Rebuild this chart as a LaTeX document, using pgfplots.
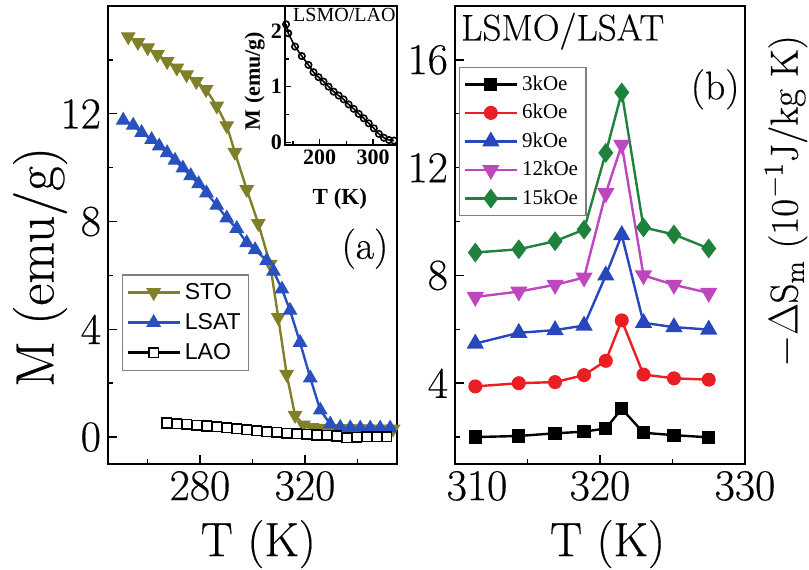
\documentclass[border=0pt]{standalone}
\usepackage{fontspec}
\setmainfont{Liberation Serif}
\newfontfamily\tnr{Liberation Serif}
\newfontfamily\lmr{Latin Modern Roman}[FakeBold=0.4]
\newfontfamily\arial{Liberation Sans}
\usepackage{pgfplots}
\pgfplotsset{compat=1.18}
\definecolor{olv}{RGB}{128,128,40}
\definecolor{lsat}{RGB}{40,80,190}
\definecolor{cred}{RGB}{235,30,35}
\definecolor{cblue}{RGB}{40,70,190}
\definecolor{cmag}{RGB}{190,70,190}
\definecolor{cgreen}{RGB}{30,130,60}
\pgfplotsset{
  common/.style={
    scale only axis, anchor=south west,
    tick pos=left, tick align=inside,
    major tick length=4.5pt, minor tick length=2.5pt,
    every tick/.style={black, line width=0.7pt},
    axis line style={line width=0.8pt},
    tick label style={font=\lmr\fontsize{22}{22}\selectfont, /pgf/number format/assume math mode=true},
    legend image code/.code={\draw[mark repeat=2,mark phase=2,##1] plot coordinates {(0pt,0pt) (13pt,0pt) (26pt,0pt)};},
  }
}
\begin{document}
\begin{tikzpicture}
\path[use as bounding box] (0,0) rectangle (404.5pt,284.5pt);
% ---------- panel (a)
\begin{axis}[common, at={(54pt,52.5pt)}, width=144.5pt, height=229pt,
  xmin=245, xmax=355, ymin=-1, ymax=16,
  xtick={280,320}, minor xtick={260,300,340},
  ytick={0,4,8,12}, minor ytick={2,6,10,14},
  xlabel={T (K)}, ylabel={M (emu/g)},
  xlabel style={font=\lmr\fontsize{24}{24}\selectfont, at={(axis description cs:0.52,-0.175)}, anchor=center},
  ylabel style={font=\lmr\fontsize{27}{27}\selectfont, at={(axis description cs:-0.235,0.43)}, anchor=center},
  legend style={at={(axis description cs:0.048,0.414)}, anchor=north west, draw=gray, line width=0.6pt,
    font=\arial\fontsize{11.5}{11.5}\selectfont, row sep=1.5pt, inner sep=2pt, cells={anchor=west}},
  legend cell align=left]
\addplot[olv, line width=1.2pt, mark=triangle*, mark size=3.8pt, mark options={solid, fill=olv, rotate=180, line width=0.5pt}] coordinates {
(252.7,14.86) (256.4,14.65) (260.1,14.45) (263.8,14.20) (267.5,13.94) (271.2,13.70) (274.9,13.45) (278.6,13.20)
(282.3,12.90) (286.4,12.29) (290.2,11.56) (293.3,10.57) (297.8,9.19) (302.2,7.93) (306.7,6.42) (309.8,4.44)
(313.0,2.33) (316.2,0.81) (319.4,0.45) (322.6,0.36) (326.0,0.33) (329.5,0.32) (333.0,0.32) (336.5,0.31)
(340.0,0.31) (343.5,0.31) (347.0,0.30) (350.5,0.30) (353.5,0.30)};
\addlegendentry{STO}
\addplot[lsat, line width=1.2pt, mark=triangle*, mark size=3.8pt, mark options={solid, fill=lsat, line width=0.5pt}] coordinates {
(250.8,11.76) (254.6,11.57) (257.8,11.30) (261.6,11.04) (264.5,10.80) (267.5,10.55) (270.5,10.27) (273.5,9.98)
(276.5,9.70) (279.5,9.40) (282.5,9.06) (286.4,8.60) (290.2,8.13) (294.0,7.74) (297.8,7.21) (301.0,6.95)
(305.4,6.55) (308.0,6.15) (311.2,5.49) (314.3,4.70) (318.1,3.51) (322.0,2.19) (325.8,1.00) (329.6,0.48)
(333.4,0.36) (337.2,0.34) (341.0,0.33) (344.8,0.33) (348.6,0.33) (352.4,0.33)};
\addlegendentry{LSAT}
\addplot[black, line width=1.2pt, mark=square*, mark size=2.4pt, mark options={solid, fill=white, line width=0.8pt}] coordinates {
(267.3,0.52) (271.1,0.50) (274.9,0.47) (278.7,0.44) (282.5,0.41) (286.4,0.38) (290.2,0.35) (294.0,0.31)
(297.8,0.27) (301.6,0.23) (305.4,0.20) (309.2,0.17) (313.0,0.14) (316.8,0.12) (320.6,0.10) (324.5,0.08)
(328.3,0.06) (332.1,0.04) (335.9,-0.02) (339.7,-0.01) (343.5,0.01) (347.3,0.02) (351.1,0.02)};
\addlegendentry{LAO}
\node[font=\lmr\fontsize{20}{20}\selectfont] at (axis description cs:0.889,0.47) {(a)};
\end{axis}
% ---------- inset
\begin{axis}[common, at={(142.5pt,212pt)}, width=56pt, height=69.5pt,
  xmin=135, xmax=345, ymin=-0.05, ymax=2.45,
  xtick={200,300}, minor xtick={150,250},
  ytick={0,1,2}, minor ytick={0.5,1.5},
  major tick length=3pt, minor tick length=1.8pt,
  tick label style={font=\tnr\bfseries\fontsize{11}{11}\selectfont},
  xticklabel style={yshift=1pt}, yticklabel style={xshift=2pt},
  xlabel={T (K)}, ylabel={M (emu/g)},
  xlabel style={font=\tnr\bfseries\fontsize{11.5}{11.5}\selectfont, at={(axis description cs:0.49,-0.385)}, anchor=center},
  ylabel style={font=\tnr\bfseries\fontsize{11}{11}\selectfont, at={(axis description cs:-0.27,0.46)}, anchor=center},
  axis background/.style={fill=white}]
\addplot[black, line width=0.8pt, mark=o, mark size=1.6pt, mark options={solid, line width=0.8pt}] coordinates {
(137,2.12) (141,1.96) (153.9,1.72) (166.5,1.55) (179,1.39) (188.4,1.26) (197.9,1.17) (207.3,1.09) (216.7,1.00)
(226.2,0.91) (235.6,0.84) (245,0.77) (254.4,0.68) (263.9,0.60) (273.3,0.51) (282.7,0.43) (292.1,0.34)
(301.6,0.25) (311,0.15) (320.5,0.08) (330,0.04) (339.4,0.03)};
\node[font=\tnr\fontsize{10}{10}\selectfont, anchor=north, inner sep=1pt] at (axis description cs:0.53,1) {LSMO/LAO};
\end{axis}
% ---------- panel (b)
\begin{axis}[common, at={(227.5pt,52.5pt)}, width=145pt, height=229pt,
  xmin=310, xmax=330, ymin=1, ymax=18,
  xtick={310,320,330}, minor xtick={315,325},
  xticklabels={\hspace*{22pt}310, 320, 330},
  ytick={4,8,12,16}, minor ytick={2,6,10,14},
  xlabel={T (K)},
  ylabel={$-\Delta$S\textsubscript{m} (10\textsuperscript{$-$1}J/kg K)},
  xlabel style={font=\lmr\fontsize{24}{24}\selectfont, at={(axis description cs:0.526,-0.175)}, anchor=center},
  ylabel style={font=\lmr\fontsize{19.5}{19.5}\selectfont, at={(axis description cs:1.141,0.573)}, anchor=center},
  legend style={at={(axis description cs:0.014,0.867)}, anchor=north west, draw=gray, line width=0.6pt,
    font=\tnr\fontsize{10.5}{10.5}\selectfont, row sep=1.5pt, inner sep=2pt, cells={anchor=west}},
  legend cell align=left]
\addplot[black, line width=1.2pt, mark=square*, mark size=2.7pt, mark options={solid, fill=black}] coordinates {
(311.4,2.00) (314.4,2.04) (316.9,2.14) (318.9,2.20) (320.4,2.32) (321.5,3.05) (323.0,2.16) (325.1,2.07) (327.5,1.99)};
\addlegendentry{3kOe}
\addplot[cred, line width=1.2pt, mark=*, mark size=2.9pt, mark options={solid, fill=cred}] coordinates {
(311.4,3.88) (314.4,4.00) (316.9,4.04) (318.9,4.30) (320.4,4.83) (321.5,6.33) (323.0,4.32) (325.1,4.18) (327.5,4.13)};
\addlegendentry{6kOe}
\addplot[cblue, line width=1.2pt, mark=triangle*, mark size=3.8pt, mark options={solid, fill=cblue}] coordinates {
(311.4,5.47) (314.4,5.87) (316.9,5.97) (318.9,6.14) (320.4,8.00) (321.5,9.50) (323.0,6.24) (325.1,6.08) (327.5,5.99)};
\addlegendentry{9kOe}
\addplot[cmag, line width=1.2pt, mark=triangle*, mark size=3.8pt, mark options={solid, fill=cmag, rotate=180}] coordinates {
(311.4,7.20) (314.4,7.40) (316.9,7.65) (318.9,7.92) (320.4,11.05) (321.5,12.85) (323.0,8.00) (325.1,7.65) (327.5,7.35)};
\addlegendentry{12kOe}
\addplot[cgreen, line width=1.2pt, mark=diamond*, mark size=4pt, mark options={solid, fill=cgreen}] coordinates {
(311.4,8.85) (314.4,8.97) (316.9,9.27) (318.9,9.70) (320.4,12.55) (321.5,14.79) (323.0,9.78) (325.1,9.52) (327.5,9.00)};
\addlegendentry{15kOe}
\node[font=\lmr\fontsize{18.5}{18.5}\selectfont, anchor=west, inner sep=0pt] at (axis description cs:0.02,0.945) {LSMO/LSAT};
\node[font=\lmr\fontsize{20}{20}\selectfont] at (axis description cs:0.897,0.818) {(b)};
\end{axis}
\end{tikzpicture}
\end{document}
